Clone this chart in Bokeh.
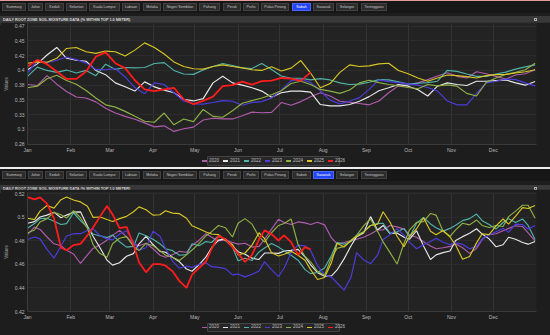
from bokeh.plotting import figure
from bokeh.models import Range1d, FixedTicker, Div
from bokeh.layouts import column
from bokeh.embed import file_html
from bokeh.resources import INLINE

FONT = "Liberation Sans"

years = ["2020", "2021", "2022", "2023", "2024", "2025", "2026"]
colors = ["#b05cad", "#e8e8e8", "#52b3a8", "#4b3de0", "#8fb044", "#d8c624", "#ff1c1c"]

month_days = [0, 31, 59, 90, 120, 151, 181, 212, 243, 273, 304, 334]
month_labels = ["Jan", "Feb", "Mar", "Apr", "May", "Jun", "Jul", "Aug", "Sep", "Oct", "Nov", "Dec"]

tabs = ["Summary", "Johor", "Kedah", "Kelantan", "Kuala Lumpur", "Labuan", "Melaka",
        "Negeri Sembilan", "Pahang", "Perak", "Perlis", "Pulau Pinang", "Sabah",
        "Sarawak", "Selangor", "Terengganu"]

title_text = "DAILY ROOT ZONE SOIL MOISTURE DATA (% WITHIN TOP 1.0 METER)"

# ---------------- Sabah (top panel) ----------------
sabah_days = [0, 7, 14, 21, 28, 35, 42, 49, 56, 63, 70, 77, 84, 91, 98, 105, 112, 119, 126, 133,
              140, 147, 154, 161, 168, 175, 182, 189, 196, 203, 210, 217, 224, 231, 238, 245, 252,
              259, 266, 273, 280, 287, 294, 301, 308, 315, 322, 329, 336, 343, 350, 357, 364]
sabah_yticks = [0.275, 0.3, 0.325, 0.35, 0.375, 0.4, 0.425, 0.45, 0.475]
sabah_ylabels = ["0.28", "0.3", "0.33", "0.35", "0.38", "0.4", "0.42", "0.45", "0.47"]

sabah_2020 = [0.3761, 0.3744, 0.3911, 0.3767, 0.3644, 0.3550, 0.3533, 0.3467, 0.3361, 0.3278,
              0.3222, 0.3172, 0.3111, 0.3044, 0.3061, 0.2967, 0.3011, 0.3039, 0.3161, 0.3189,
              0.3178, 0.3178, 0.3233, 0.3294, 0.3283, 0.3289, 0.3456, 0.3411, 0.3472, 0.3555,
              0.3622, 0.3567, 0.3478, 0.3461, 0.3439, 0.3417, 0.3483, 0.3622, 0.3739, 0.3755,
              0.3789, 0.3844, 0.3906, 0.3961, 0.3900, 0.3872, 0.3978, 0.3944, 0.3900, 0.3855,
              0.3922, 0.3944, 0.4011]
sabah_2021 = [0.4011, 0.4111, 0.4261, 0.4389, 0.4206, 0.4172, 0.4156, 0.4000, 0.3928, 0.3789,
              0.3722, 0.3650, 0.3806, 0.3722, 0.3667, 0.3622, 0.3511, 0.3483, 0.3522, 0.3789,
              0.3900, 0.3789, 0.3750, 0.3706, 0.3650, 0.3544, 0.3622, 0.3650, 0.3650, 0.3633,
              0.3422, 0.3400, 0.3400, 0.3422, 0.3478, 0.3556, 0.3656, 0.3706, 0.3761, 0.3733,
              0.3672, 0.3567, 0.3733, 0.3789, 0.3761, 0.3744, 0.3817, 0.3817, 0.3828, 0.3839,
              0.3789, 0.3750, 0.3811]
sabah_2022 = [0.3900, 0.4056, 0.4000, 0.3967, 0.4006, 0.3956, 0.4000, 0.3911, 0.4106, 0.4017,
              0.4050, 0.4044, 0.4050, 0.4117, 0.4133, 0.4000, 0.3939, 0.3933, 0.4006, 0.4067,
              0.4117, 0.4083, 0.4044, 0.4033, 0.4117, 0.4017, 0.3906, 0.3867, 0.3867, 0.3839,
              0.3861, 0.3839, 0.3789, 0.3761, 0.3767, 0.3800, 0.3844, 0.3839, 0.3806, 0.3767,
              0.3783, 0.3794, 0.3817, 0.4000, 0.3983, 0.3939, 0.3900, 0.3900, 0.3939, 0.3972,
              0.4022, 0.4061, 0.4094]
sabah_2023 = [0.3956, 0.4167, 0.4133, 0.4172, 0.4228, 0.4183, 0.4128, 0.4017, 0.4011, 0.4033,
              0.3889, 0.3710, 0.3606, 0.3789, 0.3761, 0.3622, 0.3483, 0.3433, 0.3428, 0.3456,
              0.3489, 0.3478, 0.3411, 0.3456, 0.3472, 0.3533, 0.3667, 0.3828, 0.3850, 0.3794,
              0.3656, 0.3494, 0.3433, 0.3478, 0.3539, 0.3678, 0.3839, 0.3811, 0.3794, 0.3772,
              0.3750, 0.3711, 0.3650, 0.3483, 0.3417, 0.3417, 0.3610, 0.3789, 0.3817, 0.3855,
              0.3844, 0.3789, 0.3739]
sabah_2024 = [0.3706, 0.3733, 0.3860, 0.3917, 0.3828, 0.3767, 0.3661, 0.3533, 0.3417, 0.3378,
              0.3306, 0.3222, 0.3139, 0.3122, 0.3278, 0.3078, 0.3178, 0.3133, 0.3339, 0.3222,
              0.3206, 0.3317, 0.3444, 0.3489, 0.3533, 0.3589, 0.3656, 0.3778, 0.3817, 0.3761,
              0.3678, 0.3650, 0.3611, 0.3667, 0.3789, 0.3833, 0.3794, 0.3761, 0.3739, 0.3711,
              0.3689, 0.3761, 0.3739, 0.3755, 0.3733, 0.3611, 0.3567, 0.3800, 0.3872, 0.3933,
              0.3967, 0.4011, 0.4122]
sabah_2025 = [0.4122, 0.4144, 0.4139, 0.4205, 0.4372, 0.4389, 0.4317, 0.4289, 0.4328, 0.4317,
              0.4244, 0.4344, 0.4467, 0.4389, 0.4278, 0.4144, 0.4067, 0.4028, 0.4022, 0.4067,
              0.4094, 0.4067, 0.4044, 0.4011, 0.4000, 0.4061, 0.3989, 0.4039, 0.4167, 0.3956,
              0.3706, 0.3778, 0.3967, 0.4094, 0.4067, 0.4078, 0.4111, 0.4122, 0.4000, 0.3944,
              0.3872, 0.3817, 0.3872, 0.3922, 0.3911, 0.3894, 0.3872, 0.3911, 0.3928, 0.3933,
              0.3956, 0.3978, 0.4011]
sabah_2026 = [0.4067, 0.4178, 0.4106, 0.3983, 0.3856, 0.3856, 0.3983, 0.4233, 0.4306, 0.4122,
              0.4039, 0.3833, 0.3678, 0.3650, 0.3678, 0.3706, 0.3511, 0.3428, 0.3483, 0.3556,
              0.3733, 0.3750, 0.3811, 0.3761, 0.3817, 0.3828, 0.3872, 0.3861, 0.3822, 0.3967]

# ---------------- Sarawak (bottom panel) ----------------
sarawak_days = [0, 5, 9, 14, 19, 24, 28, 33, 38, 43, 47, 52, 57, 61, 66, 71, 76, 80, 85, 90,
                95, 99, 104, 109, 114, 118, 123, 128, 132, 137, 142, 147, 151, 156, 161, 166, 170,
                175, 180, 184, 189, 194, 199, 203, 208, 213, 218, 222, 227, 232, 236, 241, 246,
                251, 255, 260, 265, 270, 274, 279, 284, 289, 293, 298, 303, 307, 312, 317, 322,
                326, 331, 336, 341, 345, 350, 355, 359, 364]
sarawak_yticks = [0.42, 0.44, 0.46, 0.48, 0.5, 0.52]
sarawak_ylabels = ["0.42", "0.44", "0.46", "0.48", "0.5", "0.52"]

sarawak_2020 = [0.4853, 0.4917, 0.4897, 0.4833, 0.4775, 0.4758, 0.4720, 0.4689, 0.4608, 0.4681,
                0.4736, 0.4767, 0.4806, 0.4847, 0.4889, 0.4836, 0.4775, 0.4758, 0.4780, 0.4733,
                0.4678, 0.4661, 0.4683, 0.4711, 0.4703, 0.4761, 0.4806, 0.4861, 0.4831, 0.4800,
                0.4808, 0.4786, 0.4772, 0.4780, 0.4747, 0.4753, 0.4814, 0.4900, 0.4983, 0.4956,
                0.4939, 0.4961, 0.4953, 0.4939, 0.4958, 0.4936, 0.4825, 0.4775, 0.4786, 0.4800,
                0.4814, 0.4831, 0.4858, 0.4892, 0.4894, 0.4931, 0.4919, 0.4900, 0.4850, 0.4831,
                0.4792, 0.4756, 0.4733, 0.4742, 0.4753, 0.4775, 0.4742, 0.4694, 0.4736, 0.4811,
                0.4853, 0.4861, 0.4886, 0.4906, 0.4928, 0.4922, 0.4867, 0.4797]
sarawak_2021 = [0.4950, 0.4964, 0.5003, 0.5019, 0.5044, 0.4997, 0.5019, 0.5044, 0.5047, 0.4925,
                0.4839, 0.4742, 0.4636, 0.4594, 0.4614, 0.4669, 0.4692, 0.4775, 0.4839, 0.4769,
                0.4711, 0.4703, 0.4661, 0.4622, 0.4561, 0.4542, 0.4597, 0.4664, 0.4742, 0.4806,
                0.4817, 0.4756, 0.4708, 0.4686, 0.4653, 0.4642, 0.4697, 0.4697, 0.4694, 0.4714,
                0.4719, 0.4728, 0.4664, 0.4597, 0.4530, 0.4500, 0.4503, 0.4553, 0.4647, 0.4758,
                0.4836, 0.4867, 0.5006, 0.4892, 0.4931, 0.4861, 0.4867, 0.4831, 0.4814, 0.4886,
                0.4756, 0.4642, 0.4681, 0.4700, 0.4714, 0.4803, 0.4836, 0.4864, 0.4903, 0.4858,
                0.4817, 0.4750, 0.4767, 0.4831, 0.4814, 0.4786, 0.4772, 0.4794]
sarawak_2022 = [0.4908, 0.4947, 0.4989, 0.4992, 0.4967, 0.4939, 0.4947, 0.5039, 0.4972, 0.4914,
                0.4858, 0.4842, 0.4828, 0.4850, 0.4792, 0.4747, 0.4753, 0.4867, 0.4844, 0.4814,
                0.4775, 0.4733, 0.4717, 0.4678, 0.4683, 0.4775, 0.4758, 0.4794, 0.4786, 0.4844,
                0.4803, 0.4747, 0.4631, 0.4653, 0.4633, 0.4706, 0.4739, 0.4778, 0.4747, 0.4717,
                0.4678, 0.4636, 0.4556, 0.4522, 0.4531, 0.4569, 0.4675, 0.4786, 0.4772, 0.4794,
                0.4847, 0.4878, 0.4931, 0.4947, 0.4950, 0.4864, 0.4878, 0.4906, 0.4833, 0.4950,
                0.5000, 0.4944, 0.4911, 0.4883, 0.4906, 0.4933, 0.4972, 0.4989, 0.5028, 0.4972,
                0.4939, 0.4900, 0.4956, 0.4989, 0.4956, 0.4986, 0.4931, 0.4811]
sarawak_2023 = [0.4811, 0.4833, 0.4817, 0.4728, 0.4653, 0.4756, 0.4842, 0.4861, 0.4861, 0.4889,
                0.4903, 0.4844, 0.4817, 0.4808, 0.4858, 0.4886, 0.4792, 0.4720, 0.4742, 0.4881,
                0.4839, 0.4736, 0.4628, 0.4567, 0.4586, 0.4575, 0.4600, 0.4614, 0.4581, 0.4575,
                0.4564, 0.4511, 0.4519, 0.4494, 0.4517, 0.4544, 0.4622, 0.4556, 0.4497, 0.4567,
                0.4700, 0.4764, 0.4758, 0.4720, 0.4589, 0.4511, 0.4492, 0.4442, 0.4381, 0.4492,
                0.4700, 0.4639, 0.4606, 0.4678, 0.4811, 0.4853, 0.4903, 0.4847, 0.4789, 0.4733,
                0.4767, 0.4794, 0.4822, 0.4789, 0.4769, 0.4783, 0.4772, 0.4733, 0.4753, 0.4817,
                0.4850, 0.4878, 0.4906, 0.4872, 0.4942, 0.4939, 0.4900, 0.4931]
sarawak_2024 = [0.4867, 0.4892, 0.4961, 0.4989, 0.5042, 0.5022, 0.4994, 0.5056, 0.4997, 0.4906,
                0.4769, 0.4692, 0.4661, 0.4775, 0.4822, 0.4836, 0.4753, 0.4717, 0.4778, 0.4758,
                0.4717, 0.4678, 0.4661, 0.4633, 0.4681, 0.4722, 0.4778, 0.4844, 0.4878, 0.4931,
                0.4911, 0.4833, 0.4950, 0.4989, 0.4942, 0.4836, 0.4789, 0.4869, 0.4931, 0.4947,
                0.4986, 0.4769, 0.4667, 0.4622, 0.4542, 0.4508, 0.4656, 0.4736, 0.4753, 0.4806,
                0.4847, 0.4928, 0.4986, 0.4881, 0.4792, 0.4700, 0.4603, 0.4780, 0.4894, 0.4958,
                0.4964, 0.5033, 0.5019, 0.4881, 0.4839, 0.4894, 0.4950, 0.4936, 0.4978, 0.4931,
                0.4914, 0.4931, 0.4922, 0.5006, 0.5053, 0.5103, 0.5103, 0.4992]
sarawak_2025 = [0.4992, 0.4981, 0.5053, 0.5100, 0.5078, 0.5150, 0.5172, 0.5147, 0.5131, 0.5094,
                0.5000, 0.5003, 0.4981, 0.4964, 0.4989, 0.5008, 0.5047, 0.5089, 0.5064, 0.5019,
                0.5022, 0.5056, 0.5036, 0.5031, 0.4992, 0.4928, 0.4903, 0.4875, 0.4858, 0.4853,
                0.4803, 0.4769, 0.4681, 0.4697, 0.4764, 0.4869, 0.4819, 0.4700, 0.4672, 0.4686,
                0.4711, 0.4678, 0.4636, 0.4556, 0.4472, 0.4489, 0.4617, 0.4780, 0.4747, 0.4803,
                0.4836, 0.4875, 0.4931, 0.4942, 0.5047, 0.4958, 0.4839, 0.4750, 0.4839, 0.4903,
                0.4997, 0.4881, 0.4853, 0.4889, 0.4833, 0.4764, 0.4644, 0.4667, 0.4783, 0.4861,
                0.4853, 0.4928, 0.4986, 0.4942, 0.5011, 0.5083, 0.5075, 0.5100]
sarawak_2026 = [0.5172, 0.5153, 0.5169, 0.5117, 0.4992, 0.4742, 0.4720, 0.4764, 0.4775, 0.4847,
                0.4914, 0.5006, 0.5097, 0.5025, 0.4908, 0.4919, 0.4769, 0.4617, 0.4533, 0.4603,
                0.4603, 0.4589, 0.4542, 0.4458, 0.4400, 0.4514, 0.4569, 0.4625, 0.4731, 0.4842,
                0.4814, 0.4747, 0.4692, 0.4622, 0.4681, 0.4811, 0.4889, 0.4858, 0.4803, 0.4847,
                0.4789, 0.4681, 0.4747, 0.4728]

sabah = dict(zip(years, [sabah_2020, sabah_2021, sabah_2022, sabah_2023, sabah_2024, sabah_2025, sabah_2026]))
sarawak = dict(zip(years, [sarawak_2020, sarawak_2021, sarawak_2022, sarawak_2023, sarawak_2024, sarawak_2025, sarawak_2026]))

# tab geometry (left, width) in px
tab_boxes = [(2, 24), (28, 15), (45, 19), (66, 21), (89, 31), (122, 18), (143, 18), (163, 34),
             (199, 21), (223, 18), (243, 16), (261, 28), (292, 19), (313, 21), (336, 22), (361, 26)]

BG = "#1d1d1d"


def tab_bar(active, height, top_html, tab_top):
    spans = []
    for name, (left, w) in zip(tabs, tab_boxes):
        on = name == active
        bg = "#2446f2" if on else "#2c2c2c"
        bd = "#4a66ff" if on else "#414141"
        fg = "#ffffff" if on else "#c9c9c9"
        spans.append(
            f'<span style="position:absolute;left:{left}px;top:{tab_top}px;width:{w}px;height:8px;'
            f'box-sizing:border-box;background:{bg};border:1px solid {bd};color:{fg};'
            f'font-size:3.6px;line-height:6px;text-align:center;white-space:nowrap;overflow:hidden;">{name}</span>')
    html = (f'<div style="position:relative;width:550px;height:{height}px;background:#171717;'
            f'overflow:hidden;font-family:\'{FONT}\';">{top_html}{"".join(spans)}</div>')
    return Div(text=html, width=550, height=height, margin=(0, 0, 0, 0))


def title_bar(height):
    html = (f'<div style="position:relative;width:550px;height:{height}px;background:#393939;'
            f'overflow:hidden;font-family:\'{FONT}\';">'
            f'<span style="position:absolute;left:3px;top:0;line-height:{height}px;font-size:3.8px;'
            f'font-weight:bold;color:#d8d8d8;white-space:nowrap;">{title_text}</span>'
            f'<span style="position:absolute;left:534px;top:{height//2-2}px;width:3px;height:3px;'
            f'border:1px solid #b0b0b0;"></span></div>')
    return Div(text=html, width=550, height=height, margin=(0, 0, 0, 0))


def legend_bar(height, box_top, box_h):
    items = []
    for yr, col in zip(years, colors):
        items.append(
            f'<span style="display:inline-flex;align-items:center;white-space:nowrap;">'
            f'<span style="display:inline-block;width:5px;height:1.5px;background:{col};margin-right:2px;"></span>'
            f'{yr}</span>')
    html = (f'<div style="position:relative;width:550px;height:{height}px;background:{BG};overflow:hidden;">'
            f'<div style="position:absolute;left:207px;top:{box_top}px;width:133px;height:{box_h}px;'
            f'box-sizing:border-box;background:#272727;border:1px solid #444;border-radius:1px;'
            f'display:flex;align-items:center;justify-content:center;gap:4px;'
            f'font-family:\'{FONT}\';font-size:4.5px;color:#bdbdbd;">{"".join(items)}</div></div>')
    return Div(text=html, width=550, height=height, margin=(0, 0, 0, 0))


def chart(days, data, yr_range, yticks, ylabels, height, top, bottom):
    p = figure(width=550, height=height, x_range=Range1d(0, 365), y_range=Range1d(*yr_range),
               output_backend="svg", toolbar_location=None,
               min_border_left=21, min_border_right=14, min_border_top=top, min_border_bottom=bottom,
               background_fill_color="#232323", border_fill_color=BG, outline_line_color=None)
    for yr, col in zip(years, colors):
        vals = data[yr]
        p.line(days[:len(vals)], vals, line_color=col,
               line_width=1.8 if yr == "2026" else 1.15)

    p.xaxis.ticker = FixedTicker(ticks=month_days)
    p.xaxis.major_label_overrides = {d: m for d, m in zip(month_days, month_labels)}
    p.yaxis.ticker = FixedTicker(ticks=yticks)
    p.yaxis.major_label_overrides = {t: l for t, l in zip(yticks, ylabels)}
    for ax in (p.xaxis[0], p.yaxis[0]):
        ax.major_tick_out = 0
        ax.major_tick_in = 0
        ax.minor_tick_out = 0
        ax.minor_tick_in = 0
        ax.axis_line_color = "#3a3a3a"
        ax.major_label_text_font = FONT
        ax.major_label_text_font_size = "5px"
        ax.major_label_text_color = "#b8b8b8"
        ax.major_label_standoff = 3
    p.xaxis.major_label_standoff = 2
    p.yaxis.axis_label = "Values"
    p.yaxis.axis_label_text_font = FONT
    p.yaxis.axis_label_text_font_size = "4.5px"
    p.yaxis.axis_label_text_font_style = "normal"
    p.yaxis.axis_label_text_color = "#a8a8a8"
    p.yaxis.axis_label_standoff = 3
    p.xgrid.grid_line_color = "#333333"
    p.ygrid.grid_line_color = "#2c2c2c"
    return p


tabs1 = tab_bar("Sabah", 13, '<div style="position:absolute;left:0;top:0;width:550px;height:1px;background:#e39b9b;"></div>', 3)
title1 = title_bar(9)
fig1 = chart(sabah_days, sabah, (0.2745, 0.4795), sabah_yticks, sabah_ylabels, 133, 1, 9)
leg1 = legend_bar(11, 0, 10)
sep_html = ('<div style="position:absolute;left:0;top:0;width:550px;height:1px;background:#1d1d1d;"></div>'
            '<div style="position:absolute;left:0;top:1px;width:550px;height:2px;background:#ececec;"></div>')
tabs2 = tab_bar("Sarawak", 15, sep_html, 5)
title2 = title_bar(8)
fig2 = chart(sarawak_days, sarawak, (0.4200, 0.5211), sarawak_yticks, sarawak_ylabels, 133, 3, 9)
leg2 = legend_bar(13, 1, 9)

layout = column(tabs1, title1, fig1, leg1, tabs2, title2, fig2, leg2, spacing=0,
                styles={"background-color": BG})

open("out.html", "w").write(file_html(layout, INLINE))
